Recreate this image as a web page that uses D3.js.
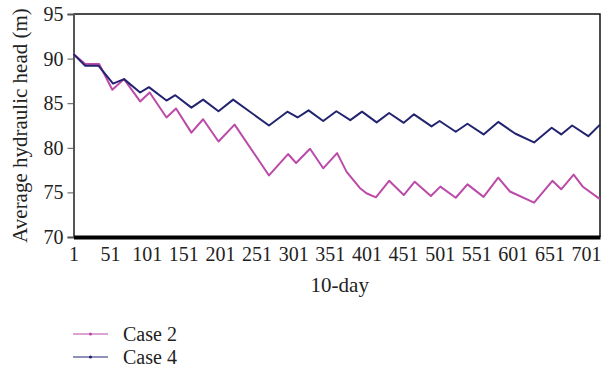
<!DOCTYPE html>
<html>
<head>
<meta charset="utf-8">
<script src="https://cdn.jsdelivr.net/npm/d3@7"></script>
<style>
  body { margin: 0; background: #fff; }
  text { font-family: "Liberation Serif", "DejaVu Serif", serif; fill: #222; }
</style>
</head>
<body>
<div id="chart"></div>
<script>
// vertices: day index and head (m)
const case2Days = [1, 17, 36, 54, 70, 92, 105, 128, 141, 162, 178, 199, 221, 268, 294, 305, 324, 342, 361, 374, 392, 401, 414, 432, 452, 467, 489, 502, 523, 539, 561, 581, 597, 630, 655, 667, 684, 697, 720];
const case2Head = [90.5, 89.4, 89.4, 86.5, 87.7, 85.2, 86.2, 83.4, 84.4, 81.7, 83.2, 80.7, 82.6, 76.9, 79.3, 78.3, 79.9, 77.7, 79.4, 77.3, 75.5, 74.9, 74.45, 76.3, 74.7, 76.2, 74.6, 75.65, 74.4, 75.9, 74.5, 76.65, 75.1, 73.85, 76.3, 75.35, 77.0, 75.6, 74.25];

const case4Days = [1, 17, 35, 55, 70, 92, 104, 128, 140, 162, 178, 199, 219, 268, 293, 307, 322, 342, 360, 379, 395, 415, 432, 452, 466, 490, 501, 523, 539, 561, 581, 604, 630, 654, 667, 682, 704, 720];
const case4Head = [90.5, 89.2, 89.2, 87.2, 87.7, 86.2, 86.8, 85.3, 85.9, 84.5, 85.4, 84.1, 85.4, 82.5, 84.05, 83.4, 84.2, 83.0, 84.1, 83.1, 84.05, 82.85, 83.9, 82.8, 83.75, 82.4, 83.0, 81.8, 82.7, 81.5, 82.9, 81.6, 80.6, 82.25, 81.5, 82.5, 81.3, 82.6];

const xTicks = [1, 51, 101, 151, 201, 251, 301, 351, 401, 451, 501, 551, 601, 651, 701];
const yTicks = [70, 75, 80, 85, 90, 95];

const width = 602, height = 374;
const margin = {top: 14, right: 2, bottom: 137, left: 73.5};
const w = width - margin.left - margin.right;
const h = height - margin.top - margin.bottom;

const svg = d3.select("#chart").append("svg")
  .attr("width", width)
  .attr("height", height);

const g = svg.append("g").attr("transform", "translate(" + margin.left + "," + margin.top + ")");

const x = d3.scaleLinear().domain([1, 720]).range([0, w]);
const y = d3.scaleLinear().domain([70, 95]).range([h, 0]);

// top and right border
g.append("path")
  .attr("d", "M0,0H" + w + "V" + h)
  .attr("fill", "none")
  .attr("stroke", "#111")
  .attr("stroke-width", 1.5);

let yAxis = g.append("g")
  .call(d3.axisLeft(y).tickValues(yTicks).tickSize(6).tickPadding(4));
yAxis.select(".domain").attr("stroke", "#555").attr("stroke-width", 2);
yAxis.selectAll(".tick line").attr("stroke", "#555").attr("stroke-width", 1);
yAxis.selectAll("text").style("font-size", "20px").attr("fill", "#222");

let xAxis = g.append("g")
  .attr("transform", "translate(0," + h + ")")
  .call(d3.axisBottom(x).tickValues(xTicks).tickSize(0).tickPadding(10));
xAxis.select(".domain").attr("stroke", "#000").attr("stroke-width", 4);
xAxis.selectAll("text").style("font-size", "20px").attr("fill", "#222");

svg.append("text")
  .attr("transform", "translate(20," + (margin.top + h / 2) + ") rotate(-90)")
  .attr("text-anchor", "middle")
  .attr("dominant-baseline", "central")
  .style("font-size", "21px")
  .text("Average hydraulic head (m)");

svg.append("text")
  .attr("x", margin.left + w / 2 + 3)
  .attr("y", 292)
  .attr("text-anchor", "middle")
  .style("font-size", "21px")
  .text("10-day");

const series = [
  {name: "Case 2", days: case2Days, vals: case2Head, color: "#bb4aa8"},
  {name: "Case 4", days: case4Days, vals: case4Head, color: "#23246f"}
];

const line = d3.line()
  .x(d => x(d[0]))
  .y(d => y(d[1]));

series.forEach(function (s) {
  g.append("path")
    .datum(s.days.map((d, i) => [d, s.vals[i]]))
    .attr("fill", "none")
    .attr("stroke", s.color)
    .attr("stroke-width", 2)
    .attr("stroke-linejoin", "round")
    .attr("d", line);
});

// legend
const leg = svg.append("g").attr("transform", "translate(73,334)");
series.forEach(function (s, i) {
  let row = leg.append("g").attr("transform", "translate(0," + (i * 23) + ")");
  row.append("line")
    .attr("x1", 0).attr("x2", 35)
    .attr("stroke", s.color).attr("stroke-width", 1.2);
  row.append("circle")
    .attr("cx", 17.5).attr("r", 1.6)
    .attr("fill", s.color);
  row.append("text")
    .attr("x", 50)
    .attr("dominant-baseline", "central")
    .style("font-size", "20px")
    .text(s.name);
});
</script>
</body>
</html>
